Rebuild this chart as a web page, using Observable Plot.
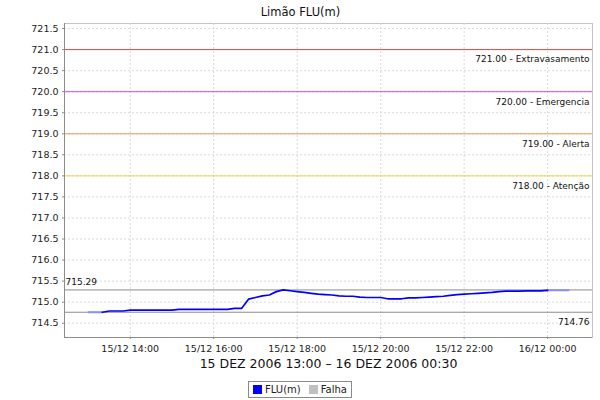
<!DOCTYPE html>
<html><head><meta charset="utf-8">
<script src="https://cdn.jsdelivr.net/npm/d3@7"></script>
<script src="https://cdn.jsdelivr.net/npm/@observablehq/plot@0.6"></script>
<style>
body{margin:0;background:#fff;width:600px;height:400px;overflow:hidden;font-family:"DejaVu Sans",sans-serif;}
#chart svg{display:block;}
.legend{display:flex;align-items:center;width:max-content;margin:9px auto 0;border:1px solid #8a8a8a;padding:1px 4px 1px 4px;font-size:10px;color:#222;height:17px;box-sizing:border-box;}
.legend span.sw{display:inline-block;width:9px;height:9px;margin-right:3px;}
.legend span.lab{margin-right:8px;}
.legend span.lab:last-child{margin-right:0;}
</style></head>
<body>
<div id="chart"></div>
<script>
const title = "Limão FLU(m)";
const caption = "15 DEZ 2006 13:00 – 16 DEZ 2006 00:30";
const times = [
"2006-12-15T13:00","2006-12-15T13:10","2006-12-15T13:20","2006-12-15T13:30","2006-12-15T13:40","2006-12-15T13:50",
"2006-12-15T14:00","2006-12-15T14:10","2006-12-15T14:20","2006-12-15T14:30","2006-12-15T14:40","2006-12-15T14:50",
"2006-12-15T15:00","2006-12-15T15:10","2006-12-15T15:20","2006-12-15T15:30","2006-12-15T15:40","2006-12-15T15:50",
"2006-12-15T16:00","2006-12-15T16:10","2006-12-15T16:20","2006-12-15T16:30","2006-12-15T16:40","2006-12-15T16:50",
"2006-12-15T17:00","2006-12-15T17:10","2006-12-15T17:20","2006-12-15T17:30","2006-12-15T17:40","2006-12-15T17:50",
"2006-12-15T18:00","2006-12-15T18:10","2006-12-15T18:20","2006-12-15T18:30","2006-12-15T18:40","2006-12-15T18:50",
"2006-12-15T19:00","2006-12-15T19:10","2006-12-15T19:20","2006-12-15T19:30","2006-12-15T19:40","2006-12-15T19:50",
"2006-12-15T20:00","2006-12-15T20:10","2006-12-15T20:20","2006-12-15T20:30","2006-12-15T20:40","2006-12-15T20:50",
"2006-12-15T21:00","2006-12-15T21:10","2006-12-15T21:20","2006-12-15T21:30","2006-12-15T21:40","2006-12-15T21:50",
"2006-12-15T22:00","2006-12-15T22:10","2006-12-15T22:20","2006-12-15T22:30","2006-12-15T22:40","2006-12-15T22:50",
"2006-12-15T23:00","2006-12-15T23:10","2006-12-15T23:20","2006-12-15T23:30","2006-12-15T23:40","2006-12-15T23:50",
"2006-12-16T00:00","2006-12-16T00:10","2006-12-16T00:20","2006-12-16T00:30"
];
const levels = [
714.76,714.76,714.76,714.79,714.79,714.79,
714.81,714.81,714.81,714.81,714.81,714.81,
714.81,714.83,714.83,714.83,714.83,714.83,
714.83,714.83,714.83,714.85,714.85,715.07,
715.11,715.15,715.17,715.25,715.29,715.27,
715.25,715.23,715.21,715.19,715.18,715.17,
715.15,715.14,715.14,715.12,715.11,715.11,
715.11,715.08,715.08,715.08,715.10,715.10,
715.11,715.12,715.13,715.14,715.16,715.18,
715.19,715.20,715.21,715.22,715.23,715.25,
715.26,715.26,715.26,715.27,715.27,715.27,
715.28,715.28,715.28,715.28
];
// alert thresholds
const refValues = [721.00, 720.00, 719.00, 718.00];
const refNames = ["Extravasamento", "Emergencia", "Alerta", "Atenção"];
const refColors = ["#e4473c", "#dc4adc", "#eb9a4e", "#f2d04a"];
const maxValue = 715.29;
const minValue = 714.76;
const yTicks = [714.5,715.0,715.5,716.0,716.5,717.0,717.5,718.0,718.5,719.0,719.5,720.0,720.5,721.0,721.5];
const xTickTimes = ["2006-12-15T14:00","2006-12-15T16:00","2006-12-15T18:00","2006-12-15T20:00","2006-12-15T22:00","2006-12-16T00:00"];
const legendItems = ["FLU(m)", "Falha"];
const legendColors = ["#0000ff", "#c0c0c0"];

const toDate = s => new Date(s + ":00Z");
const data = times.map((t, i) => ({t: toDate(t), v: levels[i]}));
const tStart = data[0].t, tEnd = data[data.length - 1].t;
const span = tEnd - tStart;
const xDomain = [new Date(+tStart - span * 0.05), new Date(+tEnd + span * 0.05)];
const yDomain = [714.16, 721.62];
const xTicks = xTickTimes.map(toDate);
const pad = n => String(n).padStart(2, "0");
const fmtX = d => `${pad(d.getUTCDate())}/${pad(d.getUTCMonth() + 1)} ${pad(d.getUTCHours())}:${pad(d.getUTCMinutes())}`;

const mainData = data.slice(2, data.length - 3);
const headData = data.slice(0, 3);
const tailData = data.slice(data.length - 4);
const refs = refValues.map((v, i) => ({v, name: refNames[i], c: refColors[i]}));

const chart = Plot.plot({
  width: 600, height: 372,
  marginLeft: 64, marginRight: 8, marginTop: 23, marginBottom: 35,
  style: {fontFamily: "DejaVu Sans", fontSize: "9.5px", background: "#fff", color: "#222"},
  x: {type: "utc", domain: xDomain, axis: null},
  y: {domain: yDomain, axis: null},
  marks: [
    Plot.frame({stroke: "#c4c4c4"}),
    Plot.gridY(yTicks, {stroke: "#dadada", strokeOpacity: 1, strokeDasharray: "2,2"}),
    Plot.gridX(xTicks, {stroke: "#dadada", strokeOpacity: 1, strokeDasharray: "2,2"}),
    Plot.ruleY(refs, {y: "v", stroke: "c", strokeWidth: 1}),
    Plot.ruleY([maxValue, minValue], {stroke: "#8c8c8c", strokeWidth: 1}),
    Plot.text(refs, {y: "v", text: d => `${d.v.toFixed(2)} - ${d.name}`, frameAnchor: "right", textAnchor: "end", dx: -3, dy: 10, fontSize: 9, fill: "#111"}),
    Plot.text([maxValue], {y: d => d, text: d => d.toFixed(2), frameAnchor: "left", textAnchor: "start", dx: 1, dy: -8, fontSize: 9, fill: "#111"}),
    Plot.text([minValue], {y: d => d, text: d => d.toFixed(2), frameAnchor: "right", textAnchor: "end", dx: -3, dy: 10, fontSize: 9, fill: "#111"}),
    Plot.line(headData, {x: "t", y: "v", stroke: "#8c8cff", strokeWidth: 2}),
    Plot.line(tailData, {x: "t", y: "v", stroke: "#8c8cff", strokeWidth: 2}),
    Plot.line(mainData, {x: "t", y: "v", stroke: "#0000ff", strokeWidth: 1.7}),
    Plot.ruleX([xDomain[0]], {stroke: "#8c8c8c"}),
    Plot.ruleY([yDomain[0]], {stroke: "#8c8c8c"}),
    Plot.axisY(yTicks, {tickFormat: d => d.toFixed(1), tickSize: 2, tickPadding: 4, stroke: "#8c8c8c", fill: "#222", label: null}),
    Plot.axisX(xTicks, {tickFormat: fmtX, tickSize: 2, tickPadding: 6, stroke: "#8c8c8c", fill: "#222", label: null}),
    Plot.text([title], {frameAnchor: "top", dx: -28, dy: -16, fontSize: 11.5, fill: "#111"}),
    Plot.text([caption], {frameAnchor: "bottom", dy: 30, fontSize: 12.5, fill: "#111"})
  ]
});
document.getElementById("chart").appendChild(chart);

const leg = document.createElement("div");
leg.className = "legend";
legendItems.forEach((name, i) => {
  const sw = document.createElement("span");
  sw.className = "sw"; sw.style.background = legendColors[i];
  const lab = document.createElement("span");
  lab.className = "lab"; lab.textContent = name;
  leg.appendChild(sw); leg.appendChild(lab);
});
document.body.appendChild(leg);
</script>
</body></html>
